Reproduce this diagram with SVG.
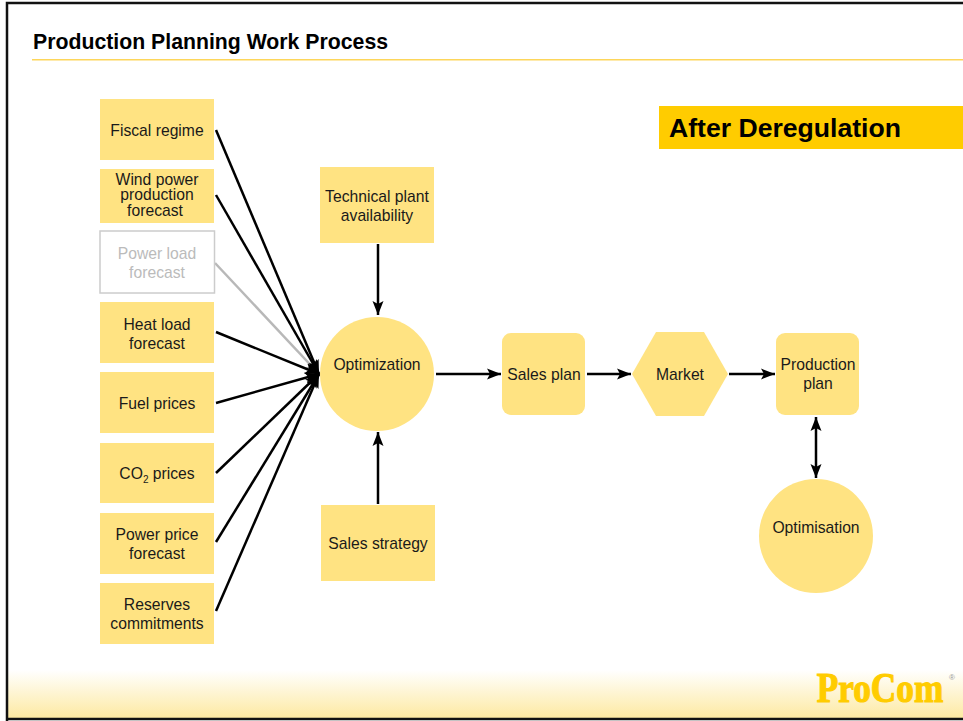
<svg xmlns="http://www.w3.org/2000/svg" width="963" height="721" viewBox="0 0 963 721">
<style>
text{font-family:"Liberation Sans",Arial,sans-serif;font-size:15.7px;fill:#1a1a1a;text-anchor:middle}
.n{fill:#ffe382}
.c{stroke:#000;stroke-width:2.5;fill:none}
.g{stroke:#b8b8b8;stroke-width:2.5;fill:none}
</style>
<defs>
<linearGradient id="bg" x1="0" y1="0" x2="0" y2="1"><stop offset="0" stop-color="#fff"/><stop offset="1" stop-color="#fde9a0"/></linearGradient>
<marker id="a" markerUnits="userSpaceOnUse" markerWidth="15" markerHeight="12" refX="14" refY="6" orient="auto"><path d="M0 .5L14 6L0 11.500L3 6Z" fill="#000"/></marker>
<marker id="s" markerUnits="userSpaceOnUse" markerWidth="15" markerHeight="12" refX="0" refY="6" orient="auto"><path d="M14 .5L0 6L14 11.500L11 6Z" fill="#000"/></marker>
<marker id="ag" markerUnits="userSpaceOnUse" markerWidth="15" markerHeight="12" refX="14" refY="6" orient="auto"><path d="M0 .5L14 6L0 11.500L3 6Z" fill="#b8b8b8"/></marker>
</defs>
<rect width="963" height="721" fill="#fff"/>
<rect x="8" y="670" width="955" height="49" fill="url(#bg)"/>
<path d="M7 721V3H963M7 719H963" fill="none" stroke="#111" stroke-width="2.5"/>
<text x="33" y="48.500" style="font-size:21.25px;font-weight:bold;text-anchor:start;fill:#000">Production Planning Work Process</text>
<rect x="32" y="59" width="931" height="1.5" fill="#fdd65a"/>
<g id="banner"><rect x="659" y="106" width="304" height="43" fill="#ffcc00"/><text x="669" y="137" style="font-size:26.6px;font-weight:bold;text-anchor:start;fill:#000">After Deregulation</text></g>
<g id="connectors">
<path class="g" d="M215 263L319 374" marker-end="url(#ag)"/>
<path class="c" d="M216 130L319 374" marker-end="url(#a)"/>
<path class="c" d="M216 195L319 374" marker-end="url(#a)"/>
<path class="c" d="M216 332L319 374" marker-end="url(#a)"/>
<path class="c" d="M216 403L319 374" marker-end="url(#a)"/>
<path class="c" d="M216 473L319 374" marker-end="url(#a)"/>
<path class="c" d="M216 542L319 374" marker-end="url(#a)"/>
<path class="c" d="M216 611L319 374" marker-end="url(#a)"/>
<path class="c" d="M378 244V315" marker-end="url(#a)"/>
<path class="c" d="M378 504V432" marker-end="url(#a)"/>
<path class="c" d="M436 374H501" marker-end="url(#a)"/>
<path class="c" d="M587 374H631" marker-end="url(#a)"/>
<path class="c" d="M729 374H775" marker-end="url(#a)"/>
<path class="c" d="M816 417V478" marker-start="url(#s)" marker-end="url(#a)"/>
</g>
<g id="fiscal"><rect class="n" x="100" y="99" width="114" height="61"/><text x="157" y="136">Fiscal regime</text></g>
<g id="wind"><rect class="n" x="100" y="169" width="114" height="54"/><text x="157" y="185">Wind power</text><text x="157" y="200">production</text><text x="155" y="216">forecast</text></g>
<g id="powerload"><rect x="100" y="231" width="114.500" height="62" fill="#fff" stroke="#ccc" stroke-width="1.500"/><text x="157" y="259" style="fill:#bbb">Power load</text><text x="157" y="278" style="fill:#bbb">forecast</text></g>
<g id="heat"><rect class="n" x="100" y="302" width="114" height="61"/><text x="157" y="330">Heat load</text><text x="157" y="349">forecast</text></g>
<g id="fuel"><rect class="n" x="100" y="372" width="114" height="61"/><text x="157" y="409">Fuel prices</text></g>
<g id="co2"><rect class="n" x="100" y="443" width="114" height="60"/><text x="157" y="479">CO<tspan dy="4" style="font-size:10px">2</tspan><tspan dy="-4"> prices</tspan></text></g>
<g id="powerprice"><rect class="n" x="100" y="513" width="114" height="61"/><text x="157" y="540">Power price</text><text x="157" y="559">forecast</text></g>
<g id="reserves"><rect class="n" x="100" y="583" width="114" height="61"/><text x="157" y="610">Reserves</text><text x="157" y="629">commitments</text></g>
<g id="technical"><rect class="n" x="320" y="167" width="114" height="76"/><text x="377" y="202">Technical plant</text><text x="377" y="221">availability</text></g>
<g id="salesstrategy"><rect class="n" x="321" y="505" width="114" height="76"/><text x="378" y="549">Sales strategy</text></g>
<g id="optimization"><circle class="n" cx="377" cy="374" r="57"/><text x="377" y="370">Optimization</text></g>
<g id="salesplan"><rect class="n" x="502" y="333" width="83" height="82" rx="9"/><text x="544" y="380">Sales plan</text></g>
<g id="market"><path class="n" d="M632 374L656 332H704L728 374L704 416H656Z"/><text x="680" y="380">Market</text></g>
<g id="productionplan"><rect class="n" x="776" y="333" width="83" height="82" rx="9"/><text x="818" y="370">Production</text><text x="818" y="389">plan</text></g>
<g id="optimisation"><circle class="n" cx="816" cy="536" r="57"/><text x="816" y="533">Optimisation</text></g>
<g id="logo"><text transform="translate(880 702) scale(.84 1)" style="font-family:'Liberation Serif',serif;font-size:42px;font-weight:bold;fill:#ffcc00;stroke:#ffcc00;stroke-width:1.200">ProCom</text><text x="952" y="680" style="font-size:8px;fill:#999">®</text></g>
</svg>
